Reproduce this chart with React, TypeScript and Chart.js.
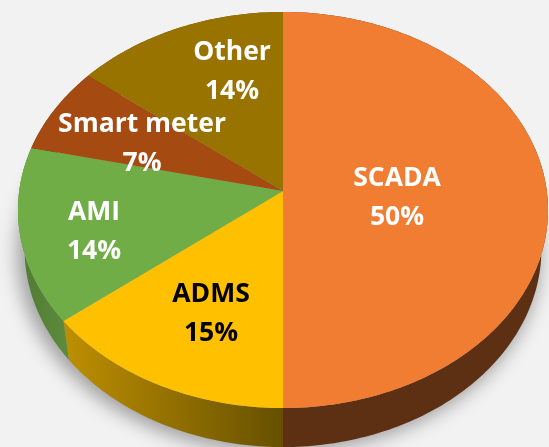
import React, { useEffect, useRef } from "react";
import { Chart, registerables } from "chart.js";

Chart.register(...registerables);

const categories = ["SCADA", "ADMS", "AMI", "Smart meter", "Other"];
const sliceShares = [50, 14.3, 14.3, 7.1, 14.3];
const shownPercents = ["50%", "15%", "14%", "7%", "14%"];
const topColors = ["#F07D32", "#FFC000", "#70AD47", "#A54A10", "#997300"];
const wallLeftColors = ["#5E3013", "#BE8F00", "#4E7A33", "#6E3009", "#665000"];
const wallRightColors = ["#5E3013", "#665000", "#5C8A3C", "#6E3009", "#665000"];
const textColors = ["#FFFFFF", "#000000", "#FFFFFF", "#FFFFFF", "#FFFFFF"];

// View: perspective of the tilted disc and where each text block is centred.
const APEX_X = 283;
const APEX_Y = 191;
const PERSP = 0.096;
const RADIUS_X = 263.8;
const RADIUS_Y = 196.2;
const WALL_DEPTH = 39;
const WALL_SHRINK = 0.975;
const LABEL_CENTERS = [
  [397, 198],
  [211, 314],
  [94, 232],
  [142, 144],
  [232, 72],
];
const LINE_GAP = 39;

const project = (a: number) => {
  const u = Math.cos(a);
  const v = Math.sin(a);
  const d = 1 - PERSP * v;
  return [APEX_X + (RADIUS_X * u) / d, APEX_Y + (RADIUS_Y * v) / d];
};
const lower = ([x, y]: number[]) => [APEX_X + (x - APEX_X) * WALL_SHRINK, y + WALL_DEPTH];

const arcPoints = (start: number, end: number) => {
  const n = Math.max(2, Math.ceil(((end - start) * 180) / Math.PI));
  const pts: number[][] = [];
  for (let i = 0; i <= n; i++) pts.push(project(start + ((end - start) * i) / n));
  return pts;
};

const tracePath = (ctx: CanvasRenderingContext2D, pts: number[][]) => {
  ctx.beginPath();
  pts.forEach(([x, y], i) => (i ? ctx.lineTo(x, y) : ctx.moveTo(x, y)));
  ctx.closePath();
};

const tiltedPie = {
  id: "tiltedPie",
  beforeDatasetsDraw(chart: any) {
    const ctx: CanvasRenderingContext2D = chart.ctx;
    const arcs = chart.getDatasetMeta(0).data;

    // walls
    arcs.forEach((arc: any, i: number) => {
      const pts = arcPoints(arc.startAngle, arc.endAngle);
      const base = pts.map((p) => lower(p)).reverse();
      const xs = pts.map((p) => p[0]);
      const grad = ctx.createLinearGradient(Math.min(...xs), 0, Math.max(...xs), 0);
      grad.addColorStop(0, wallLeftColors[i]);
      grad.addColorStop(1, wallRightColors[i]);
      ctx.fillStyle = grad;
      tracePath(ctx, pts.concat(base));
      ctx.fill();
    });

    // top faces
    arcs.forEach((arc: any) => {
      const pts = arcPoints(arc.startAngle, arc.endAngle);
      ctx.fillStyle = arc.options.backgroundColor;
      tracePath(ctx, [[APEX_X, APEX_Y], ...pts]);
      ctx.fill();
    });

    // text
    ctx.font = 'bold 26.5px "Open Sans", sans-serif';
    ctx.textAlign = "center";
    ctx.textBaseline = "middle";
    categories.forEach((name, i) => {
      const [cx, cy] = LABEL_CENTERS[i];
      ctx.fillStyle = textColors[i];
      ctx.fillText(name, cx, cy - LINE_GAP / 2);
      ctx.fillText(shownPercents[i], cx, cy + LINE_GAP / 2);
    });
    return false;
  },
};

export default function App() {
  const ref = useRef<HTMLCanvasElement>(null);
  useEffect(() => {
    const chart = new Chart(ref.current!, {
      type: "pie",
      data: {
        labels: categories,
        datasets: [{ data: sliceShares, backgroundColor: topColors, borderWidth: 0 }],
      },
      options: {
        animation: false,
        responsive: false,
        plugins: { legend: { display: false }, tooltip: { enabled: false } },
      },
      plugins: [tiltedPie],
    } as any);
    return () => chart.destroy();
  }, []);
  return (
    <div style={{ position: "fixed", left: 0, top: 0, width: 549, height: 447, background: "#F2F2F2", overflow: "hidden" }}>
      <div
        style={{
          position: "absolute",
          left: 17,
          top: 53,
          width: 524,
          height: 400,
          borderRadius: "50%",
          background: "#A0A0A0",
          filter: "blur(9px)",
        }}
      />
      <canvas ref={ref} width={549} height={447} style={{ display: "block", position: "relative" }} />
    </div>
  );
}
